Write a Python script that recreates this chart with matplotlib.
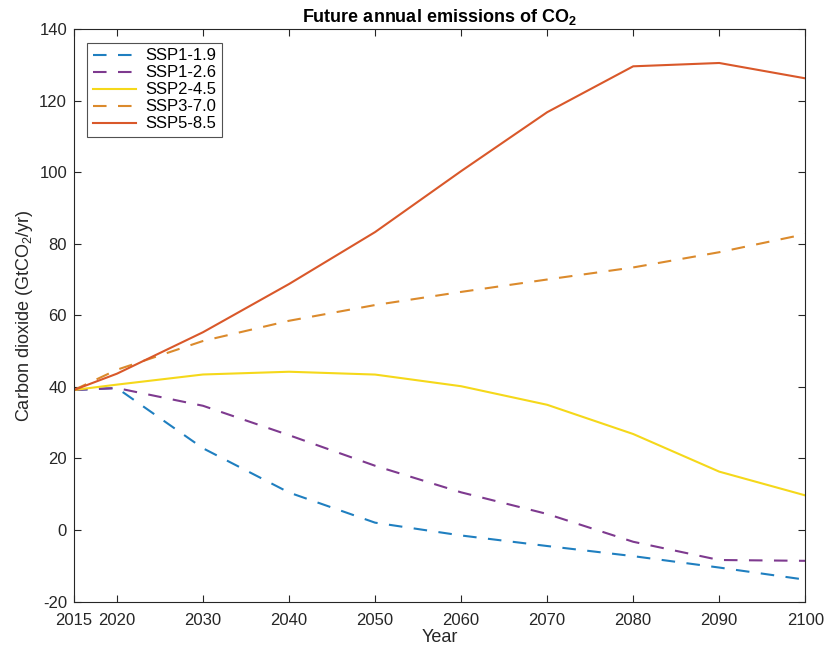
import matplotlib
matplotlib.use("Agg")
import matplotlib.pyplot as plt

plt.rcParams["font.family"] = ["Liberation Sans", "DejaVu Sans"]
plt.rcParams["mathtext.fontset"] = "custom"
plt.rcParams["mathtext.rm"] = "Liberation Sans"
plt.rcParams["mathtext.bf"] = "Liberation Sans:bold"
plt.rcParams["axes.unicode_minus"] = False

years = [2015, 2020, 2030, 2040, 2050, 2060, 2070, 2080, 2090, 2100]
ssp119 = [39.15, 39.69, 22.85, 10.48, 2.05, -1.53, -4.48, -7.31, -10.50, -13.89]
ssp126 = [39.15, 39.69, 34.73, 26.51, 17.96, 10.53, 4.48, -3.29, -8.39, -8.62]
ssp245 = [39.15, 40.65, 43.48, 44.25, 43.46, 40.20, 35.01, 26.84, 16.32, 9.68]
ssp370 = [39.15, 44.81, 52.85, 58.50, 62.90, 66.57, 70.04, 73.41, 77.67, 82.73]
ssp585 = [39.15, 43.71, 55.30, 68.78, 83.30, 100.34, 116.81, 129.65, 130.58, 126.29]

labels = ["SSP1-1.9", "SSP1-2.6", "SSP2-4.5", "SSP3-7.0", "SSP5-8.5"]
series = [ssp119, ssp126, ssp245, ssp370, ssp585]
colors = ["#1f7fc0", "#7e3a8f", "#f5d81a", "#db8a2c", "#d9582a"]
styles = ["--", "--", "-", "--", "-"]

fig = plt.figure(figsize=(8.31, 6.51), dpi=100)
ax = fig.add_axes([0.089, 0.076, 0.880, 0.879])

for vals, lab, c, ls in zip(series, labels, colors, styles):
    line, = ax.plot(years, vals, ls, color=c, lw=1.5, label=lab)
    if ls == "--":
        line.set_dashes((6.5, 5.5))

ax.set_xlim(2015, 2100)
ax.set_ylim(-20, 140)
ax.set_xticks(years)
ax.set_yticks(range(-20, 141, 20))
ax.tick_params(direction="in", top=True, right=True, length=5, width=0.8,
               labelsize=12, colors="#262626")
ax.tick_params(axis="x", pad=8)
ax.tick_params(axis="y", pad=5)
for s in ax.spines.values():
    s.set_color("#262626")
    s.set_linewidth(0.8)

ax.set_xlabel("Year", fontsize=13, color="#262626", labelpad=1)
ax.set_ylabel("Carbon dioxide (GtCO$_2$/yr)", fontsize=13, color="#262626", labelpad=3)
ax.set_title("Future annual emissions of CO$_\\mathbf{2}$", fontsize=13,
             fontweight="bold", pad=5)

leg = ax.legend(loc="upper left", fontsize=12, frameon=True, fancybox=False,
                edgecolor="#262626", handlelength=2.6, borderaxespad=0.8,
                labelspacing=0.12, handletextpad=0.5, borderpad=0.35)
leg.get_frame().set_linewidth(0.8)

fig.savefig("out.png", dpi=100)
